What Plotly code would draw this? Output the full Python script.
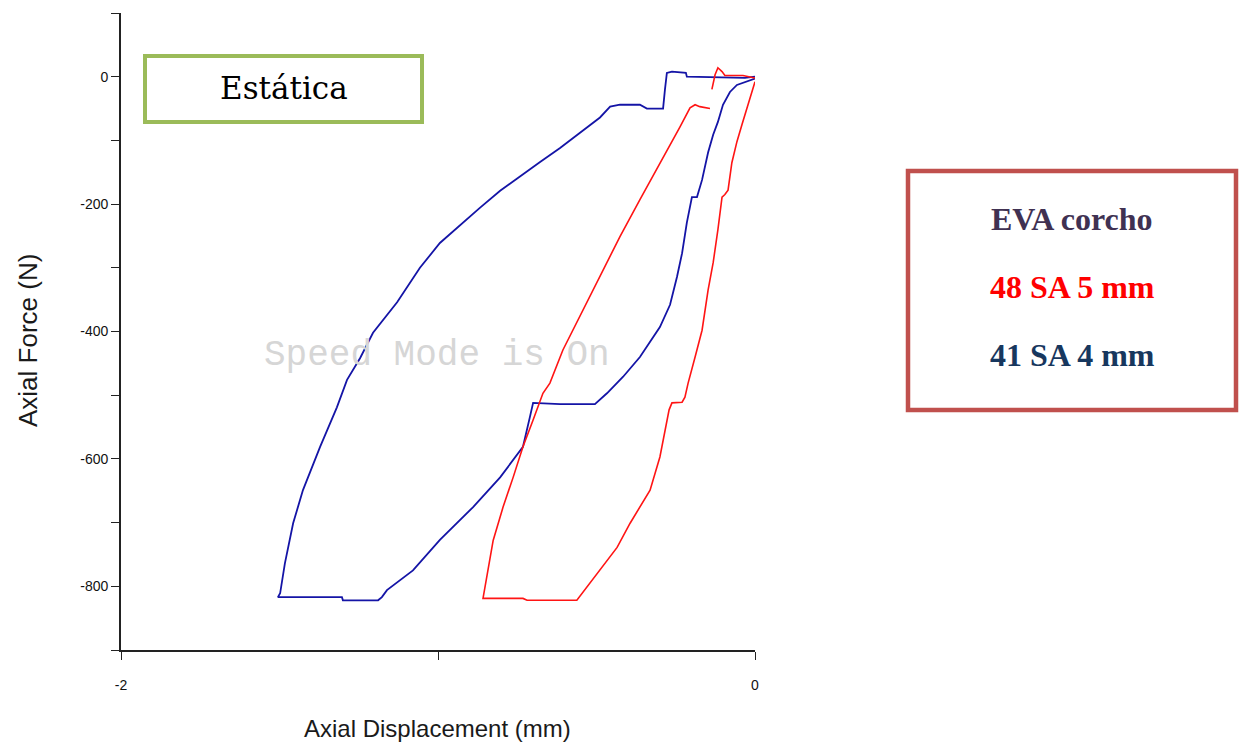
import plotly.graph_objects as go

# ---- data (displacement in mm, force in N) ----
blue_x = [0, -0.032, -0.215, -0.218, -0.262, -0.278, -0.284, -0.290, -0.341, -0.363, -0.426, -0.457,
          -0.489, -0.552, -0.615, -0.678, -0.741, -0.804, -0.868, -0.931, -0.994, -1.057, -1.129,
          -1.205, -1.246, -1.287, -1.319, -1.372, -1.426, -1.457, -1.483, -1.498, -1.505,
          -1.303, -1.300, -1.189, -1.177, -1.161, -1.120, -1.079, -0.994, -0.890, -0.804, -0.732,
          -0.710, -0.700, -0.615, -0.505, -0.467, -0.416, -0.363, -0.341, -0.300, -0.268, -0.246,
          -0.230, -0.215, -0.199, -0.183, -0.167, -0.148, -0.132, -0.117, -0.101, -0.079, -0.057,
          -0.025, 0]
blue_y = [0, -2, 0, 6, 8, 6, -20, -50, -50, -44, -44, -47,
          -64, -88, -112, -134, -156, -179, -206, -233, -261, -300, -354,
          -402, -442, -476, -519, -581, -649, -701, -764, -811, -817,
          -817, -822, -822, -817, -806, -790, -775, -727, -676, -629, -581,
          -534, -512, -514, -514, -497, -471, -440, -424, -393, -358, -314,
          -277, -229, -189, -189, -162, -119, -91, -71, -44, -24, -13,
          -8, -3]

red_x = [0, -0.038, -0.095, -0.104, -0.117, -0.126, -0.136, None,
         -0.142, -0.174, -0.189, -0.205, -0.237, -0.300, -0.363, -0.426, -0.489, -0.552, -0.606,
         -0.647, -0.669, -0.700, -0.732, -0.763, -0.795, -0.826, -0.845, -0.858,
         -0.732, -0.719, -0.562, -0.530, -0.489, -0.435, -0.394, -0.363, -0.331, -0.300,
         -0.278, -0.271, -0.262, -0.230, -0.221, -0.211, -0.189, -0.167, -0.148, -0.132,
         -0.117, -0.104, -0.095, -0.085, -0.073, -0.057, -0.041, -0.025, -0.009, 0]
red_y = [-2, 2, 2, 8, 14, 3, -20, None,
         -50, -47, -44, -49, -79, -135, -193, -251, -314, -377, -429,
         -481, -497, -539, -581, -629, -676, -728, -779, -819,
         -819, -822, -822, -801, -775, -739, -701, -676, -649, -597,
         -544, -523, -512, -511, -503, -481, -440, -398, -335, -292,
         -240, -189, -185, -178, -135, -102, -75, -49, -24, -8]

x_tickvals = [-2, -1, 0]
x_ticktext = ["-2", "", "0"]
y_tickvals = [100, 0, -100, -200, -300, -400, -500, -600, -700, -800, -900]
y_ticktext = ["", "0", "", "-200", "", "-400", "", "-600", "", "-800", ""]

legend_title = "EVA corcho"
series_names = ["48 SA 5 mm", "41 SA 4 mm"]
panel_label = "Estática"

BLUE = "#1414A6"
RED = "#FF1414"

fig = go.Figure()
fig.add_trace(go.Scatter(x=blue_x, y=blue_y, mode="lines", name=series_names[1],
                         line=dict(color=BLUE, width=1.8), connectgaps=False))
fig.add_trace(go.Scatter(x=red_x, y=red_y, mode="lines", name=series_names[0],
                         line=dict(color=RED, width=1.6), connectgaps=False))

axis_common = dict(showline=True, linecolor="#222222", linewidth=1.6, ticks="outside",
                   ticklen=8, tickwidth=1.4, tickcolor="#222222", showgrid=False,
                   zeroline=False, tickfont=dict(family="Liberation Sans, Arial", size=14, color="#111111"))

fig.update_xaxes(range=[-2, 0], tickmode="array", tickvals=x_tickvals, ticktext=x_ticktext,
                 ticklabelstandoff=13, **axis_common)
fig.update_yaxes(range=[-900, 100], tickmode="array", tickvals=y_tickvals, ticktext=y_ticktext,
                 **axis_common)

def px(xp):
    return (xp - 121) / 634.0

def py(yp):
    return (650 - yp) / 637.0

shapes = [
    dict(type="rect", xref="paper", yref="paper", x0=px(145), x1=px(422), y0=py(122), y1=py(56),
         line=dict(color="#9BBB59", width=4), fillcolor="white", layer="below"),
    dict(type="rect", xref="paper", yref="paper", x0=px(908), x1=px(1236), y0=py(410), y1=py(171),
         line=dict(color="#C0504D", width=4.5), fillcolor="white", layer="below"),
]

annotations = [
    dict(text=panel_label, x=px(284), y=py(88), xref="paper", yref="paper", showarrow=False,
         font=dict(family="DejaVu Serif", size=31, color="#000000"), xanchor="center", yanchor="middle"),
    dict(text="<b>" + legend_title + "</b>", x=px(1072), y=py(219), xref="paper", yref="paper",
         showarrow=False, font=dict(family="Liberation Serif", size=32, color="#403152"),
         xanchor="center", yanchor="middle"),
    dict(text="<b>" + series_names[0] + "</b>", x=px(1072), y=py(287), xref="paper", yref="paper",
         showarrow=False, font=dict(family="Liberation Serif", size=32, color="#FF0000"),
         xanchor="center", yanchor="middle"),
    dict(text="<b>" + series_names[1] + "</b>", x=px(1072), y=py(355), xref="paper", yref="paper",
         showarrow=False, font=dict(family="Liberation Serif", size=32, color="#17375E"),
         xanchor="center", yanchor="middle"),
    dict(text="Speed Mode is On", x=px(437), y=py(355), xref="paper", yref="paper", showarrow=False,
         font=dict(family="Liberation Mono", size=36, color="#D6D6D6"), xanchor="center", yanchor="middle"),
    dict(text="Axial Force (N)", x=px(28), y=py(341), xref="paper", yref="paper", showarrow=False,
         textangle=-90, font=dict(family="Liberation Sans, Arial", size=26, color="#1a1a1a"),
         xanchor="center", yanchor="middle"),
    dict(text="Axial Displacement (mm)", x=px(437), y=py(728), xref="paper", yref="paper",
         showarrow=False, font=dict(family="Liberation Sans Narrow, Arial Narrow, Liberation Sans", size=24,
                                    color="#1a1a1a"), xanchor="center", yanchor="middle"),
]

fig.update_layout(width=1239, height=749, margin=dict(l=121, r=484, t=13, b=99),
                  paper_bgcolor="white", plot_bgcolor="white", showlegend=False,
                  shapes=shapes, annotations=annotations)

fig.write_html("out.html")
